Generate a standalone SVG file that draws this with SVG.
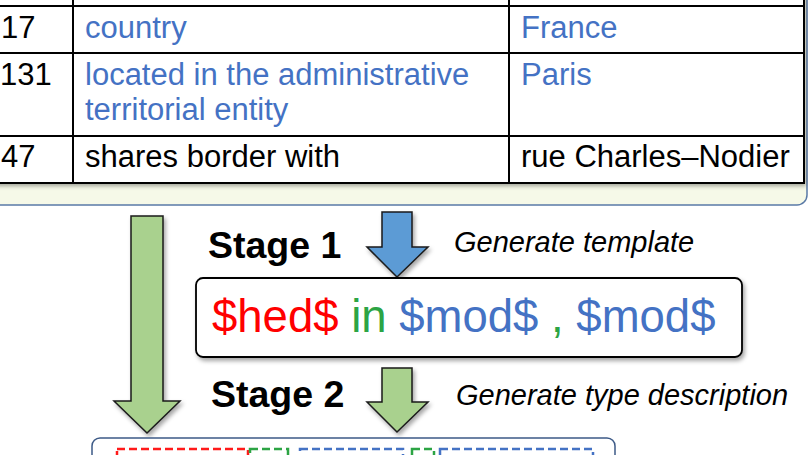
<svg xmlns="http://www.w3.org/2000/svg" width="808" height="455" viewBox="0 0 808 455">
<defs>
<filter id="sh" x="-10%" y="-10%" width="130%" height="140%">
<feDropShadow dx="2" dy="3" stdDeviation="2" flood-color="#000" flood-opacity="0.35"/>
</filter>
<style>
.t{font-family:"Liberation Sans",Arial,sans-serif;font-size:31px;fill:#000}
.b{fill:#4472c4}
.grid{stroke:#000;stroke-width:2;fill:none}
.stage{font-family:"Liberation Sans",Arial,sans-serif;font-size:37.5px;font-weight:bold;fill:#000}
.it{font-family:"Liberation Sans",Arial,sans-serif;font-size:29px;font-style:italic;fill:#000}
.arrow{stroke:#1a1a1a;stroke-width:1.5;stroke-linejoin:miter}
.green{fill:#a9d18e}
.blue{fill:#5b9bd5}
.dash{fill:none;stroke-width:2.5;stroke-dasharray:8 4}
</style>
</defs>
<g id="panel">
<rect x="-20" y="-20" width="827" height="225" rx="10" fill="#f6f9e8" stroke="#5a7aa6" stroke-width="1.5"/>
</g>
<g id="table">
<rect x="-10" y="-10" width="814" height="193" fill="#fff" filter="url(#sh)"/>
<rect x="-10" y="-10" width="814" height="193" class="grid"/>
<line x1="-10" y1="6" x2="804" y2="6" class="grid"/>
<line x1="-10" y1="53" x2="804" y2="53" class="grid"/>
<line x1="-10" y1="136" x2="804" y2="136" class="grid"/>
<line x1="73" y1="-10" x2="73" y2="183" class="grid"/>
<line x1="509" y1="-10" x2="509" y2="183" class="grid"/>
<text class="t" x="1" y="38">17</text>
<text class="t b" x="85" y="38">country</text>
<text class="t b" x="521" y="38">France</text>
<text class="t" x="0" y="85">131</text>
<text class="t b" x="85" y="85">located in the administrative</text>
<text class="t b" x="85" y="120">territorial entity</text>
<text class="t b" x="521" y="85">Paris</text>
<text class="t" x="1" y="167">47</text>
<text class="t" x="85" y="167">shares border with</text>
<text class="t" x="521" y="167">rue Charles–Nodier</text>
</g>
<g id="connectors">
<polygon class="arrow green" filter="url(#sh)" points="131,216 163,216 163,401 180,401 147,433 114,401 131,401"/>
<polygon class="arrow blue" filter="url(#sh)" points="382,212 412,212 412,247 428,247 397,277 367,247 382,247"/>
<polygon class="arrow green" filter="url(#sh)" points="382,368 412,368 412,402 428,402 397,432 367,402 382,402"/>
</g>
<g id="stage1-label">
<text class="stage" x="208" y="258">Stage 1</text>
<text class="it" x="454" y="252">Generate template</text>
</g>
<g id="template">
<rect x="196" y="278" width="546" height="79" rx="7" fill="#fff" stroke="#000" stroke-width="1.8" filter="url(#sh)"/>
<text x="212" y="332" font-family="Liberation Sans, Arial, sans-serif" font-size="45.5"><tspan fill="#ff0000">$hed$</tspan> <tspan fill="#2ca444">in</tspan> <tspan fill="#4472c4">$mod$</tspan> <tspan fill="#2ca444">,</tspan> <tspan fill="#4472c4">$mod$</tspan></text>
</g>
<g id="stage2-label">
<text class="stage" x="211" y="407">Stage 2</text>
<text class="it" x="456" y="405">Generate type description</text>
</g>
<g id="description">
<rect x="92" y="438" width="523" height="40" rx="8" fill="#fff" stroke="#3d5a87" stroke-width="1.5"/>
<rect class="dash" x="117" y="449" width="131" height="30" stroke="#ff1a1a"/>
<rect class="dash" x="250" y="449" width="38" height="30" stroke="#2ca444"/>
<rect class="dash" x="300" y="449" width="103" height="30" stroke="#4472c4"/>
<rect class="dash" x="412" y="449" width="22" height="30" stroke="#2ca444"/>
<rect class="dash" x="440" y="449" width="153" height="30" stroke="#4472c4"/>
</g>
</svg>
